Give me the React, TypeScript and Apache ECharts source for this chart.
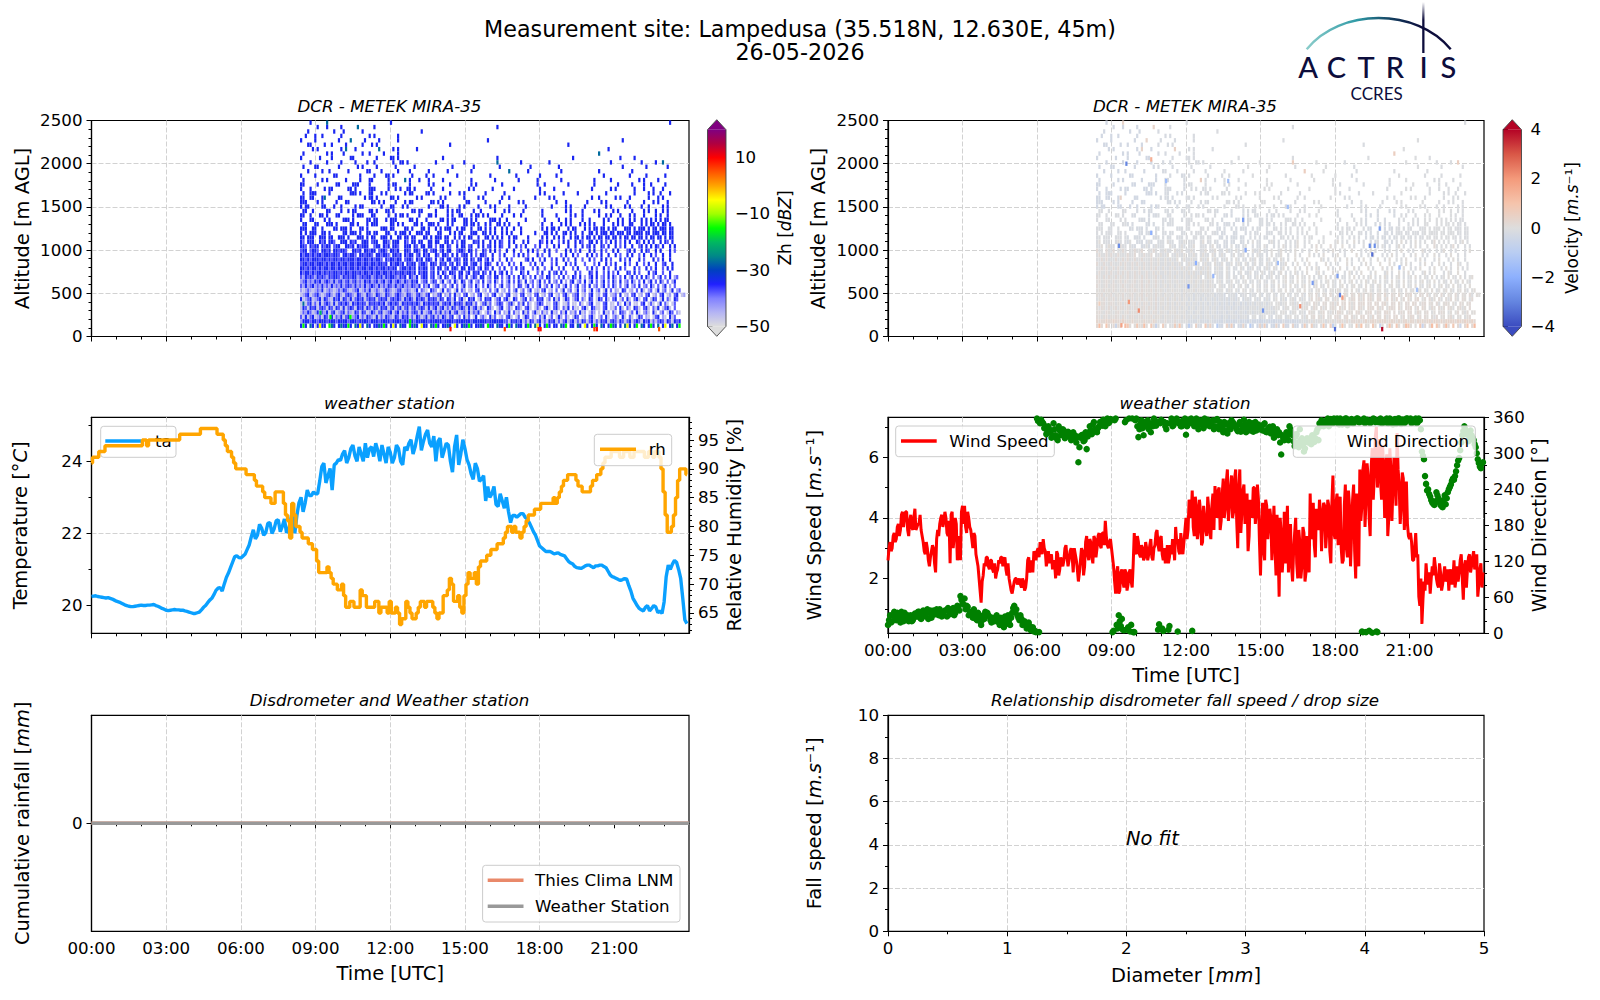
import React, { useEffect, useRef } from "react";
import * as echarts from "echarts";

const FONT = "DejaVu Sans";

// ---------- data ----------
const hourTicks = [0, 3, 6, 9, 12, 15, 18, 21];

// 10-minute samples from 00:00, and the samples 5 minutes after each of them
const temperature = [
  20.25,20.27,20.24,20.22,20.22,20.18, 20.12,20.08,20.02,19.98,19.97,19.99,
  20.01,20.0,20.01,20.03,19.98,19.92, 19.87,19.87,19.89,19.88,19.87,19.84,
  19.8,19.78,19.82,19.95,20.08,20.2, 20.42,20.5,20.6,20.9,21.2,21.38,
  21.32,21.42,21.68,22.1,21.95,22.15, 22.02,22.3,22.12,22.38,22.2,22.02,
  22.37,22.0,22.85,22.6,23.2,23.05, 23.1,23.45,23.95,23.6,23.2,23.95,
  24.02,24.3,24.1,24.45,24.0,24.2, 24.5,24.35,24.13,24.3,24.45,23.95,
  24.25,24.1,24.35,23.9,24.3,24.6, 24.4,24.96,24.55,24.87,24.4,24.0,
  24.64,24.3,24.45,23.7,24.73,24.2, 24.35,23.9,23.5,23.8,23.5,22.9,
  23.0,23.3,22.75,22.9,23.0,22.3, 22.5,22.5,22.55,22.4,22.18,21.95,
  21.65,21.55,21.5,21.47,21.45,21.42, 21.38,21.22,21.15,21.05,21.03,21.1,
  21.12,21.05,21.1,21.12,21.05,20.85, 20.78,20.72,20.72,20.73,20.4,20.1,
  19.92,19.85,20.0,19.92,19.96,19.85, 20.1,21.12,21.15,21.2,20.75,19.6,
];
const temperatureBetween = [
  20.26,20.25,20.23,20.21,20.2,20.15, 20.1,20.05,20.0,19.97,19.98,20.0,
  20.0,20.01,20.02,20.0,19.95,19.9, 19.86,19.88,19.88,19.87,19.85,19.82,
  19.78,19.8,19.88,20.0,20.15,20.3, 20.48,20.4,20.78,21.05,21.35,21.33,
  21.37,21.55,21.9,21.85,22.25,21.95, 22.28,22.0,22.35,22.05,22.4,22.1,
  22.7,22.5,23.0,22.85,23.05,23.15, 23.1,23.85,23.4,23.8,23.9,24.05,
  24.2,23.95,24.35,24.15,24.4,24.0, 24.1,24.4,24.5,24.0,24.2,24.4,
  23.95,24.45,24.0,24.4,24.5,24.2, 24.7,24.3,24.75,24.5,24.7,24.55,
  24.1,24.5,24.0,24.4,23.9,24.6, 24.05,23.65,23.95,23.45,23.6,23.3,
  23.1,22.8,23.1,22.7,22.6,22.5, 22.45,22.55,22.45,22.3,22.05,21.8,
  21.6,21.5,21.5,21.43,21.46,21.4, 21.3,21.18,21.08,21.04,21.06,21.12,
  21.08,21.1,21.12,21.08,20.95,20.8, 20.75,20.7,20.75,20.55,20.2,20.0,
  19.88,19.95,19.85,20.0,19.8,19.78, 20.8,21.0,21.25,21.0,20.2,19.5,
];
const humidity = [
  91,92,93,93,94,94, 94,94,94,94,94,94, 94,95,95,95,95,95, 95,95,95,95,96,96,
  96,96,96,97,97,97, 97,96,95,93,92,90, 90,90,89,89,87,87, 85,85,84,86,86,82,
  78,82,80,78,78,77, 76,72,72,73,71,70, 69,68,66,67,66,69, 68,66,66,67,66,66,
  67,65,65,64,67,65, 64,66,67,67,67,65, 65,68,69,70,67,66, 68,72,71,70,74,74,
  75,76,77,77,79,80, 80,79,79,81,82,83, 83,84,84,84,84,86, 88,89,89,88,87,86,
  86,88,89,90,92,92, 93,93,92,93,92,93, 93,93,92,93,93,92, 86,79,80,85,90,90,
];
const humidityBetween = [
  92,92,93,94,94,94, 94,94,94,94,94,94, 95,94,95,95,95,95, 95,95,95,96,96,96,
  96,96,97,97,97,97, 96,96,94,93,91,90, 90,89,89,88,87,86, 85,84,86,86,84,81,
  84,80,79,78,77,76, 74,72,72,72,70,69, 70,66,67,66,66,68, 66,66,67,65,66,65,
  65,66,63,64,66,64, 65,67,66,67,66,64, 65,68,71,67,68,65, 70,71,72,73,74,75,
  76,76,77,78,80,79, 79,78,80,82,82,83, 84,84,84,85,85,87, 88,89,89,87,86,86,
  87,88,89,91,92,93, 93,92,93,93,92,93, 93,92,93,92,93,90, 82,79,82,88,90,89,
];
// 5-minute samples from 00:00, and the samples 2.5 minutes after each of them
const windSpeed = [
  2.6,3.2,3.0,3.5,3.3,3.8,3.6,4.2,4.0,4.2,3.4,4.1,
  3.6,4.3,3.7,3.8,3.6,3.2,2.8,3.0,2.4,2.9,3.0,2.2,
  3.6,3.8,4.1,3.9,4.0,3.4,2.5,4.2,3.4,3.8,3.1,2.6,
  4.4,4.4,3.5,4.0,3.6,3.0,3.4,2.6,2.0,1.2,2.1,2.4,
  2.7,2.3,2.6,2.2,2.0,2.3,2.5,2.7,2.6,2.3,2.5,1.8,
  1.5,1.9,2.0,1.9,1.8,2.0,1.6,2.0,2.7,2.4,2.2,2.8,
  2.9,2.7,3.1,3.3,2.9,2.6,2.5,2.8,2.6,2.0,2.8,2.3,
  2.5,2.6,3.1,2.4,2.9,2.7,3.0,2.6,1.9,2.6,2.9,2.4,
  3.4,2.6,3.2,2.5,3.3,3.0,3.5,3.0,3.5,3.9,3.1,3.2,
  3.0,2.4,1.5,2.4,1.6,2.3,1.7,2.2,1.8,2.3,1.7,3.5,
  2.8,3.2,2.7,3.0,2.7,3.0,2.8,3.3,2.6,3.1,3.6,2.9,
  3.4,2.6,2.5,3.1,2.7,2.8,3.1,3.7,3.3,2.8,3.0,3.2,
  4.0,3.6,4.5,4.9,3.4,4.4,3.6,4.2,3.2,4.0,3.4,4.3,
  3.3,4.8,5.05,4.0,5.0,3.9,5.3,4.3,5.6,4.4,5.4,4.2,
  5.6,3.0,5.6,4.2,5.1,4.5,2.9,4.6,4.0,5.0,4.2,4.6,
  2.1,4.5,2.6,4.4,3.8,4.0,3.5,3.0,4.1,1.4,3.5,2.8,
  2.5,4.4,3.0,2.4,2.9,4.0,2.0,3.2,2.4,3.5,2.2,2.9,
  4.8,3.4,3.1,4.3,3.6,4.2,3.9,4.4,3.5,4.4,2.5,5.4,
  3.3,4.8,4.0,3.0,2.6,5.1,2.7,4.4,3.4,5.1,2.0,4.2,
  5.6,4.4,5.9,4.6,5.4,3.4,6.3,5.4,7.0,6.0,5.2,6.4,
  4.0,6.1,4.0,5.6,5.0,5.4,6.8,5.1,4.4,5.3,4.4,3.8,
  3.3,3.2,2.6,3.5,2.8,1.1,0.5,1.9,2.5,1.8,1.5,2.4,
  2.7,2.0,1.7,2.2,1.8,2.4,2.0,1.6,2.3,2.0,1.7,2.4,
  2.2,2.8,1.3,2.6,2.3,2.8,2.4,2.9,2.5,1.4,2.3,1.7,
];
const windSpeedBetween = [
  3.0,2.9,3.4,3.2,3.7,3.4,4.1,3.7,4.2,3.6,3.9,3.7,
  4.0,3.6,3.8,4.1,3.4,2.9,3.2,2.6,2.7,3.1,2.5,3.3,
  3.4,4.0,3.7,4.2,3.5,3.9,4.1,3.0,4.0,2.6,3.4,4.2,
  3.8,3.7,4.2,3.7,3.3,3.5,2.8,2.4,1.6,1.9,2.5,2.7,
  2.4,2.6,2.3,2.5,2.2,2.6,2.7,2.4,2.7,2.1,2.0,1.6,
  1.7,2.0,1.8,2.0,1.7,1.9,1.7,2.6,2.2,2.6,2.9,2.6,
  3.0,3.2,2.8,3.0,2.4,2.9,2.7,2.3,2.5,2.9,2.1,2.7,
  2.4,3.0,2.7,2.6,3.0,2.2,2.8,2.3,2.2,3.0,2.1,3.2,
  2.8,3.3,2.7,3.4,2.7,3.4,3.1,3.5,3.1,3.4,3.0,3.3,
  2.7,1.9,2.2,1.5,2.2,1.9,2.3,1.6,2.2,1.9,2.5,2.9,
  3.4,2.8,3.1,2.6,3.2,2.6,3.1,2.7,3.0,3.5,3.1,3.3,
  2.8,3.0,2.7,2.5,3.1,3.3,2.6,3.2,2.9,3.5,2.8,3.6,
  3.3,4.6,4.0,3.7,4.7,3.3,4.6,3.1,4.4,3.6,4.7,3.5,
  4.4,3.6,4.6,4.9,3.6,4.8,4.0,5.2,3.9,5.0,4.0,5.3,
  3.9,5.0,3.5,4.9,3.8,4.8,3.4,4.3,5.0,3.8,5.1,3.2,
  3.6,2.9,4.6,3.3,4.3,2.6,4.4,2.1,3.0,4.0,2.2,4.2,
  3.4,2.2,3.8,1.9,3.5,2.5,3.6,2.0,3.7,1.9,3.4,2.2,
  3.3,4.5,2.7,3.9,4.6,2.9,4.5,3.0,4.6,2.9,4.5,3.5,
  4.5,3.1,4.7,2.5,4.4,3.0,4.9,2.4,4.6,2.9,4.8,2.4,
  3.9,5.6,3.7,5.8,4.0,5.7,4.6,6.7,5.0,6.6,4.6,5.6,
  5.7,3.4,6.3,3.9,6.0,4.4,5.6,3.8,5.5,3.6,5.2,3.4,
  3.5,2.6,3.0,2.7,1.4,2.0,1.3,1.6,2.0,2.2,2.0,2.1,
  2.4,1.8,2.5,1.6,2.1,1.9,2.3,2.2,1.8,2.6,2.0,1.9,
  2.6,2.0,2.4,1.7,2.7,2.2,2.7,2.3,2.8,1.8,2.5,2.2,
];
const windDirection = [
  14,30,20,36,22,32,18,28,34,24,20,30,
  22,33,28,36,24,38,28,40,34,26,38,32,
  34,40,28,36,38,42,32,36,30,40,44,62,
  50,58,46,30,34,26,32,22,28,14,30,36,
  34,28,18,22,24,26,14,22,10,20,30,14,
  34,46,40,26,30,14,20,8,18,5,10,4,
  358,2,356,350,345,335,340,326,350,330,322,338,
  333,338,329,336,328,330,331,318,285,326,331,322,
  307,335,338,348,340,335,345,350,356,345,358,352,
  356,4,358,8,20,24,5,355,10,3,358,2,
  358,327,350,342,352,348,340,335,345,355,352,15,
  356,4,345,350,12,358,347,355,3,352,345,350,
  331,356,350,4,345,358,340,350,355,358,347,352,
  348,355,345,357,340,350,335,348,333,345,355,350,
  345,337,352,340,356,335,345,338,350,343,338,348,
  345,338,350,335,342,333,345,330,340,335,298,325,
  323,330,345,335,320,328,318,340,325,303,320,318,
  325,330,319,335,322,345,352,348,355,345,357,350,
  352,358,348,355,350,358,347,352,357,350,355,358,
  352,3,358,2,355,350,1,357,3,352,358,350,
  355,358,350,356,348,357,353,358,349,356,352,358,
  355,350,354,358,352,355,303,290,249,240,228,218,
  214,235,225,214,210,230,225,240,248,258,262,280,
  292,318,337,340,335,325,330,322,310,290,278,283,
];
const windDirectionBetween = [
  22,18,30,24,34,26,36,20,28,30,24,20,
  26,30,36,26,32,34,36,24,38,30,34,40,
  30,36,34,38,28,40,34,42,34,46,38,56,
  48,40,44,36,30,40,24,34,20,22,24,30,
  30,22,26,20,30,18,26,14,28,16,22,26,
  42,36,30,22,24,16,14,10,12,6,3,2,
  354,350,352,342,332,345,335,330,340,325,345,330,
  340,325,332,334,322,335,325,328,310,330,320,335,
  328,345,332,352,338,342,352,346,352,355,350,357,
  2,355,14,30,12,6,352,6,358,14,2,355,
  345,340,355,330,345,355,345,350,358,346,6,350,
  8,352,340,6,350,345,352,358,350,345,355,358,
  345,352,358,350,352,346,355,348,342,352,356,345,
  352,340,355,345,352,342,352,338,350,340,352,345,
  340,348,336,345,348,340,352,342,336,352,345,340,
  342,348,336,340,344,338,326,334,330,318,330,322,
  335,322,340,330,312,332,310,322,314,308,325,322,
  315,328,325,340,350,355,345,352,358,348,354,358,
  355,350,358,348,354,358,350,355,350,354,358,352,
  355,2,350,356,4,354,358,352,2,356,350,355,
  352,350,358,352,355,349,358,352,356,350,358,355,
  358,352,356,350,358,340,296,262,238,232,222,216,
  220,230,218,212,222,215,235,244,254,256,270,288,
  305,330,345,332,320,338,326,315,300,284,275,285,
];
const rainHours = [0, 24];
const rainDisdrometer = [0, 0];
const rainWeatherStation = [0, 0];

// radar gates, estimated by eye: one string per altitude, top first, one character per time step.
const gateStartHour = 8.42;
const gateStepHour = 0.095;
const gateTopAltitude = 2475;
const gateStepAltitude = 51.1;
const gateRows = [
  "....b......t..........................b.....................................................................................................................b",
  ".......b...b.....b......t......b...................................................b",
  "...b..........b...b.......b........................b",
  "..b...b..b.......b...........b.b.........b",
  "b.....b.........b....t.....b.....b.......b.....................................b........................................................b",
  "...bb.....b..b.....b......b...b.b..............................b.................................................b",
  ".....b.b.........b.t...b.........t.....b.b.......b................................................................................b",
  ".b.........b.b....b.......b..b.....b.....b....................................................................................t",
  "b.......b....b.......bb.........b.....bb.b..................b......................b...............................b...................b.....b",
  "....b......b.....b.....b....b..b.......b..bb.b...........b...........b.............t.........b...........b.........................b............b.....b..t",
  ".b....bb........b.......b.b.....b.......b.......b...............b........b..........b............b...........b..........................b.........b........b",
  "...b.....b..b.......b.......bb....b......b....b.......b.......b.........b...............t.......b.............b...............b.............b...............",
  "b.....b.......bb.........b.....b....bb.b.......b.....b..b.........b.............b..........b.........b......b...................b..........b......b.......b",
  ".b.......b.b.......b.....b...bb......b......t.b...b...b.....b...........b.........b.........b.......b.........b.............b......b...........b.b.....b...",
  "bb.....b.......bb.....bbb....b.......b.bb.....b.......b.b......b........b.b..........b..............b..b.........b..........b.........b.....b....b..b.....b.",
  "b...b.....b.bb......bb.b.....bbb.....b..b.b..bb.b......b....b..........b.b.......b........b..........b.....b...............b.......b.b.......b...b...b...b..",
  ".b..bbb.....b........bbb.b...bb...b.b.......b.bb.....bb.b......b...b.b........b.......b..............b.b.......b.....b...........b...........b.....b.b..b...b",
  "bb..bb...bt.....bb.........b.bb.b.....bb.b.......b.b.......b.b.......b.....b.b.......b..b..........b.....b.b...............b..b......b.b...b.......b...b.b..",
  "bbb....b.b.....b...bb.........bb.b.b....b...b.bb.......bb.b.b.........bb......b.....b.......b.b.............b...b........b.....b.b........b......b...b.b...b.",
  "b.bb.....bb...b..b.....b.bb.......b...bb...b.b........b....bb.b....b.b.....b....b.b.....b......b..........b.....b.b.....b........b.b.....b.b....b..b.....b.b",
  ".bb..b.....bb....b..b.bb.....bb.b...bb.b.......bb.bb.....b....b.b.bb.....b..b.....b...b.b.....b.......b.........b.b....b....b.b.....b.b.....b....b.b..b..b.b.",
  "bb..b...bb.b...bb.....b.bbb...bb.....b..b.bb.b....b...bb.b....b.b..bb...b.bb.b.b.....b....b..b........b.....b.....b.b..b......b..b.b...b...b.b...b....b.b..b",
  "b...bb....b.b.....bbb.b.....bb.bb...b.bbb.....bb.b...b.....bb.b.bb...bb.b.b.....bbb.b..b.......b.......b.....b..b.b....b..b.....b.b...b.b..b.b..b.b.b.b.b.bb",
  ".bb...bb...bbb.b.....bb.b...b.bbb.....bb.b.b....bb.b..bbb.b...b.b....bb.bb.b..b.b..bb.b.b...b.........b...b...b.b.b...b.b.b.b...b...b.b.b..bb...b.b.bb.b.bb.b.",
  "bbb..bb..b....bb.bbb.b...bb.b.....bbb.bb....bb.b...bb.b..b.b.bbb..b.bb..b..bb.b.b.b..b.b..b..b........b.b.bb.b...b.bb...b.b.bb.bb.b.bb...bbb.b.bbb.b.bb.bbb.bb",
  "b.b.bbb..bb.b.....bb.bbb.b..bb.bb...bb..b.bbb.b..bbb.bb...bb...b.b.bb...bbb..bb.b.b..b.b.b...b.....b...bb.b.b..bb.b.b..b..bb.b.bbb.bb.bbb.bb.bbbb.bb.bbb.bb.bb",
  "bb.bbb..bbb.bb..bbb.b...bbb.b.bb..bbb.b..bb.bb.bb...bb.b.bbb.bb..b.b.b.bb..b..bb.b.b.b..b.bb....b.....b.b..b.b.b..b.bb.b.bb.b.bb.bb.bb.b.bb.bb.bb.b.bb.bb.b.bb",
  "bm.bbb..bmb.bbm..bbb.bmb..bbb.mbb..bbm.bbb..bm.bb.bb..bb.bb..bb.b.m.bb...bmb.b..b.b.bm..b.b...b.b....bm.b.b..m.b.b..b.bm..bb.b.b.m.b.b.m.b.b..bm.b.b.b..b.bm.b.",
  "bbm.bmbb.bmbb.mbb..bbmb.bmbbb..mbb.bmb.bbm..bbb.bm.bb.bb.m.bb.bm..b.bb.mb..b.b.mb.b.bm..b..b.m.b...m.b..m..b.b...b..b..b.mb.b..bm.b..b.m.b..b..mb.b.b.bm.b..b.b",
  "mbb.mbbm.bbmb.bbmbbm..bbmb.bbmbb.mbbm.bbmb..bbm.bbm.bb.mbb.mb.bb..mbbm.bb.m..bm.b.b.m..b..b..m..b.b.m..b.b..m...b.b.m.b...b.b..b.m..b.b...mb.b..b.bm..b.b...b.m",
  "bmbbmbmbbmbbbmbbm.bbmbbm.bbmbbm.bbmbbm.bbmb.bmbb.mb.bmb..bm.bbm.b.b.mbb.b.m.bbm..b..m.b...m.b.b.m...b.m..b....m.b..b.m...b.b.m.b..b..b.m..b.b..m.b..b.m..b..b.",
  "bbmbmbbbmbbmbmbbmbbmbbbmbbmbbmbmbbm.bmbbmbb.mbbm.bmb.bbm.b.mb.bb.mbm.bb.bm.bb.mb.b..m..b.m.....mb.b..m.b..m.b..b.m..b..m..b.m..b.b.m...b.m.b...b.m...b.m.b..b.",
  "mbbmbbmbbbmbmbbmbmbbmbbmbbmbbmbbmbbmb.bmbbmb.bmbb.mbbm.bbm.bmb.mb.bm.bb.mbb.m.bbm..b.m..b.m..b...m.b..b...m.b...b.m.b...m...m.b..b.m.b...b.m..b..m.b..b..mb..b",
  "bbmbmbbmbmbbmbbmbbmbmbbmbmbbmbbmbmbbmbmbb.mbbmbmb.bmbb.mb.bb.mb.bbm.bb.bmb.mb.bm.b..m.b..m.b.mb...m.b..m..b..m.b...m.b...m.b.m..b.m..b.b.m...b.m..b.m.b..m.b.b",
  "bmbbmbmbbmbmbmbbmbmbbmbbmbmbbmbmbbmbbmbmbmbbmbbmb.bmbb.mb.b.bm.bbm.bb.mb.bmb.bm.b.b.mb.b.m...bm.b...m.b..b.mb.b.m...b.m...bm.b..m.b.m.b...bm.b.m...b.mb..m..b.",
  "mlbmbmlbmbmlbmbbmlbmbmbblmbmbblmbmblbmbbmlbmb.bmlb.mbb.mb.lb.bm.lb.bm.b.lbm.bb.lm.bb.m.lb.m.b.bl.m.b.lm.bb.l.m.b.l.bm.b.l.mb.b.lm.b.bl.m.b.lb.m.b.bl.m.lb.m.b.lm",
  "lmblmlbmblmbmlblmblmblmblmlbmblmblmblmblmbmlbmlbmb.lmb.lbm.lb.lm.bl.bm.lb.lm.b.lm.bl.m.lb.m.bl.b.lm.lb.m.b.lm.b.l.mb.lm.b.lb.m.lb.m.bl.b.lm.bl.m.b.lb.m.bl.m.lb.",
  "mlblmblmlblmlblmlblmbmlblmlblmbmlblmlbmlblmblmlbmlb.mlb.lmb.lm.lb.m.lb.lm.bl.m.bl.m.lb.lm.l.bm.lb.m.lb.lm.b.lm.lb.m.lb.lm.b.lm.lb.m.bl.m.lb.lm.b.lm.bl.m.lb.l.m",
  "lglmlglmlbglmlglmlbmlglmbglmlbglmlglbmlglmbglmlglb.mlg.bml.gb.ml.gb.ml.gl.mb.gl.m.lb.gl.m.lb.gm.lb.gl.mb.gl.m.gb.lm.gb.lm.gb.lm.gb.m.lg.bm.gl.m.bg.lm.gb.lm.gb.lm",
  "glmbglmblglmblgmblgmbmlgbmlgbmlgbmlgbmlgmbmlgbmlgmblgmb.lgmb.lgm.bgl.mb.gl.mb.gl.mb.gl.mb.gl.mb.gl.mb.gl.mb.gl.mbg.lmb.gl.mb.gl.mb.glm.b.gl.mb.gl.mb.gl.mb.gl.mb.gl",
  "bglmbglmbgbmlgbmbgbmlbgmbmbgmbmbgmbmbgmbmbmgbmbmgbmbmgbmbmgbm.bmgb.mbg.bmb.gm.bmb.gmb.mbg.bm.gmb.mg.bmb.gm.bgm.gbm.gmb.mg.bm.gbm.bg.mb.gm.bg.mbg.mb.gbm.gb.mg.bm",
  "gtgmbgmgbgmbmgbgmbmbmgbmbmbmgbmbmbmbgmbmbmgbmbmbmbmgbmbmbmbgmbmbgbmbmgbmbgm.gmbgm.gmbm.gmbg.mgb.mg.gmbm.gg.mbg.ggm.gg.mg.gmb.gg.mb.gg.mg.bgm.gg.mb.gmg.gb.mg.gm",
  "gbmgbmbgmbmgbmgbmgbgmbmgbmbgbmgbmgbmbgmbgmbgmbgmbgmbmgbgmbgmbgmgbmgmbmgbgmbgmg.bmg.gmb.gmg.bmg.mbg.gmg.mbg.mbg.mgb.mgg.mbg.bmgg.mb.ggm.bg.mg.bmg.mbg.mgb.gmbg.m",
  "gmlbmglbgmlbgmbglmbgmlgbmgbmglbmgmbglmbgmbgmlbgmbmgbglmbgmlbgmlbgmbglmgbgmlbg.gml.bgm.lgb.mgl.bgm.lbg.mgl.bgl.mgb.lgm.bgl.gml.g.bgl.mg.bml.gm.bg.lmg.bg.lm.gbm.lg",
  "mgbgmbglmgbmgbgmlbgmbglmbgmgbmlgbgmgbmlgbmgbmbgmgbmglbgmbgmgbmgmb.gm.bgm.gb.lmg.bgm.gl.mbg.gm.gbm.lg.mgb.gm.gbl.mg.gbm.gl.mbg.gm.bg.lmg.bg.mg.gbm.lg.gmb.lg.bgm",
  "lbbbmbbmbbbmbbbmbbbbmbbbmbbbbmbbbmbbbbmbbbbmbbbbmbbbbbmbbbbbmbbbbmbbbbbbmbbbbbbmbbbbbbmmgbmbmbgmgbmgmbgmgbmbgmgmbgmbgmgbmgmbgmgbmbgmbmgbmgmbgmbmgbmbgmgmbmgbmgbmb",
  "bvb.tb.bybb.vtb.btbbvb.tbyb.tb.bbtbvb.byb.tbb.vbtb.ybb.tbvb.bbtb.yb.btbvb.bbtb.vbb.tbb.bvb.tbb.bvb.tyb.bvb.bb.tbv.bb.tb.yb.bvb.tb.bvtb.b.tyb.bv.tb.bvb.t.by.bt.bv",
];
const gateLevelDbz: Record<string, number> = { b: -34, m: -38, l: -43, g: -47, t: -27, v: -15, y: -6 };
const zhSpikes = [[14.42, 85, 9], [16.6, 85, 6], [17.96, 85, 10], [18.04, 85, 9], [20.2, 85, 6], [20.3, 85, 9], [22.8, 85, 5], [9.6, 225, -15], [10.4, 225, -15], [9.2, 275, -20], [12.8, 175, -16]];

// mean velocity per altitude band (lowest band first) and per 1.2 h block from 08:25
const velocityBandTops = [200, 500, 1000, 1500, 2500];
const velocityBands = [
  [0.3, 0.2, 0.05, -0.1, -0.2, -0.25, -0.2, 0.0, 0.1, 0.2, 0.2, 0.25, 0.3],
  [0.05, 0.05, 0.0, -0.1, -0.15, -0.1, -0.05, 0.05, 0.1, 0.1, 0.1, 0.05, 0.05],
  [0.05, 0.05, 0.0, 0.0, -0.05, -0.05, 0.0, 0.0, 0.0, 0.0, 0.0, 0.0, 0.0],
  [0.0, -0.1, -0.05, 0.0, -0.1, -0.05, 0.0, 0.05, 0.0, -0.1, 0.0, 0.05, 0.0],
  [-0.2, -0.2, -0.1, -0.05, 0.0, 0.05, 0.0, 0.05, -0.05, 0.0, 0.05, 0.0, 0.0],
];
const velocityLevelOffset: Record<string, number> = { b: -0.1, m: 0.1, l: 0.0, g: 0.05, t: 0.6, v: 0.9, y: -0.8 };
const velocityOutliers = [
  [9.6, 2000, -3], [9.3, 1050, -2.8], [10.6, 1200, -2], [11.2, 1800, -1.6], [13.7, 1800, -1.5], [14.3, 1350, -2.4],
  [14.4, 1000, -2.2], [12.1, 580, -2.6], [15.1, 300, -2.6], [16.6, 350, 2.2], [17.1, 620, -2.5], [18.1, 700, -2.4],
  [18.2, 480, -3], [18.3, 450, 1.9], [19.4, 1050, -2.8], [19.5, 950, -3.4], [19.6, 1050, -2.8], [19.8, 1250, -2.5],
  [18.0, 85, -3.4], [19.9, 85, 4], [9.7, 400, 2], [10.1, 300, 2.2], [9.4, 130, 1.8], [10.6, 2050, 1.5], [21.3, 540, -1.4],
  [12.4, 850, -2], [13.1, 700, -1.8], [15.7, 850, -1.6], [16.1, 1500, -1.5], [20.6, 800, -1.6],
];

const zhColors = ["#dddddd","#b4b4f4","#8080ff","#2020ff","#0040c0","#008888","#00b860","#00ff00","#a0ff00","#ffff00","#ffa500","#ff5500","#ff0000","#b00040","#800080"];
const velocityColors = ["#3b4cc0","#6485e0","#8db0fe","#b9cdf2","#dddddd","#f5c4ac","#f49a7b","#d95847","#b40426"];
const zhTicks = [-50, -30, -10, 10];
const velocityTicks = [-4, -2, 0, 2, 4];

// ---------- layout ----------
const colL = { left: 91.5, width: 597.5 };
const colR = { left: 888, width: 596 };
const rowTop = [120.5, 417.3, 715.3];
const rowH = 216;

function gateCells(value: (c: string, hour: number, alt: number) => number) {
  const out: number[][] = [];
  gateRows.forEach((row, r) => {
    const alt = gateTopAltitude - r * gateStepAltitude;
    for (let i = 0; i < row.length; i++) {
      const c = row[i];
      if (c === ".") continue;
      const hour = gateStartHour + i * gateStepHour;
      if (hour < 24) out.push([hour, alt, value(c, hour, alt)]);
    }
  });
  return out;
}
const velocityAt = (c: string, hour: number, alt: number) => {
  const band = velocityBandTops.findIndex((t) => alt < t);
  const block = Math.min(12, Math.floor((hour - gateStartHour) / 1.2));
  return velocityBands[band][block] + velocityLevelOffset[c];
};
const samples = (a: number[], b: number[], minutes: number) =>
  a.flatMap((v, i) => [[(i * minutes) / 60, v], [((i + 0.5) * minutes) / 60, b[i]]]);

const label = (extra: any = {}) => ({ fontFamily: FONT, fontSize: 16.67, color: "#000", margin: 9, formatter: (v: number) => String(v), ...extra });
const tickLine = { lineStyle: { color: "#000", width: 1 } };
const dash = { show: true, showMinLine: false, showMaxLine: false, lineStyle: { color: "#d2d2d2", width: 1, type: [5, 2] } };
const nameStyle = (size = 19.44) => ({
  fontFamily: FONT, fontSize: size, color: "#000",
  rich: {
    n: { fontFamily: FONT, fontSize: size, color: "#000" },
    i: { fontFamily: FONT, fontSize: size, color: "#000", fontStyle: "italic" },
  },
});
const minorOn = (n: number) => ({ show: true, splitNumber: n, length: 3, ...tickLine });
const axisLine = { show: true, lineStyle: { color: "#000", width: 1.2 } };

function timeAxis(gridIndex: number, labelled: boolean) {
  return {
    type: "value", gridIndex, min: 0, max: 24, interval: 3,
    axisLine, splitLine: dash,
    axisTick: { show: true, length: 5, customValues: hourTicks, ...tickLine },
    minorTick: minorOn(3),
    axisLabel: labelled
      ? label({ customValues: hourTicks, formatter: (v: number) => String(v).padStart(2, "0") + ":00" })
      : { show: false },
    ...(labelled ? { name: "Time [UTC]", nameLocation: "middle", nameGap: 33, nameTextStyle: nameStyle() } : {}),
  };
}
const altitudeAxis = (gridIndex: number) => ({
  type: "value", gridIndex, min: 0, max: 2500, interval: 500,
  axisLine, splitLine: dash, axisTick: { show: true, length: 5, ...tickLine }, minorTick: minorOn(5),
  axisLabel: label(), name: "Altitude [m AGL]", nameLocation: "middle", nameGap: 60, nameTextStyle: nameStyle(),
});
const hiddenX = (gridIndex: number) => ({ type: "value", gridIndex, min: 0, max: 1, show: false });
const minorY = (gridIndex: number, position: string, min: number, max: number, customValues: number[]) => ({
  type: "value", gridIndex, position, min, max, axisLine: { show: false }, splitLine: { show: false },
  axisLabel: { show: false }, axisTick: { show: true, length: 3, customValues, ...tickLine },
});
const colorbarAxis = (gridIndex: number, min: number, max: number, ticks: number[], name: string, gap: number) => ({
  type: "value", gridIndex, position: "right", min, max,
  axisLine: { show: false }, splitLine: { show: false },
  axisTick: { show: true, length: 5, customValues: ticks, ...tickLine },
  axisLabel: label({ customValues: ticks, formatter: (v: number) => String(v).replace("-", "\u2212") }),
  name, nameLocation: "middle", nameGap: gap, nameRotate: 90, nameTextStyle: nameStyle(17),
});

function colorbarSeries(xAxisIndex: number, yAxisIndex: number, range: number[], colors: string[]) {
  return {
    type: "custom", xAxisIndex, yAxisIndex, silent: true, z: 3,
    data: [range],
    renderItem: (_: any, api: any) => {
      const [xl, yb] = api.coord([0, api.value(0)]);
      const [xr, yt] = api.coord([1, api.value(1)]);
      const xm = (xl + xr) / 2;
      const tip = 10;
      const stops = colors.map((color, i) => ({ offset: i / (colors.length - 1), color }));
      return {
        type: "group",
        children: [
          { type: "polygon", shape: { points: [[xl, yt], [xm, yt - tip], [xr, yt]] }, style: { fill: colors[colors.length - 1] } },
          { type: "polygon", shape: { points: [[xl, yb], [xm, yb + tip], [xr, yb]] }, style: { fill: colors[0] } },
          { type: "rect", shape: { x: xl, y: yt, width: xr - xl, height: yb - yt }, style: { fill: new echarts.graphic.LinearGradient(0, 1, 0, 0, stops) } },
          { type: "polygon", shape: { points: [[xl, yt], [xm, yt - tip], [xr, yt], [xr, yb], [xm, yb + tip], [xl, yb]] }, style: { fill: "none", stroke: "#444", lineWidth: 0.9 } },
        ],
      };
    },
  };
}

// ---------- legends and logo ----------
function legendBox(x: number, y: number, w: number, h: number, z: number) {
  return { type: "rect", z, silent: true, shape: { x, y, width: w, height: h, r: 3 }, style: { fill: "rgba(255,255,255,0.8)", stroke: "#cccccc", lineWidth: 1 } };
}
function legendLine(x1: number, x2: number, y: number, stroke: string, z: number) {
  return { type: "line", z: z + 0.1, silent: true, shape: { x1, y1: y, x2, y2: y }, style: { stroke, lineWidth: 3.4 } };
}
function plainText(text: string, x: number, y: number, z: number, extra: any = {}) {
  return { type: "text", z: z + 0.2, silent: true, x, y, style: { text, fill: "#000", fontFamily: FONT, fontSize: 16.67, textAlign: "left", textVerticalAlign: "middle", ...extra } };
}
const logoInk = "#0d0d3c";
const logoLetters = [["A", 1308], ["C", 1336.5], ["T", 1366], ["R", 1395], ["I", 1423.5], ["S", 1448.5]] as const;
const fullPage: React.CSSProperties = { position: "fixed", left: 0, top: 0, width: 1600, height: 1000 };

export default function App() {
  const ref = useRef<HTMLDivElement>(null);
  const topRef = useRef<HTMLDivElement>(null);
  useEffect(() => {
    if (!ref.current || !topRef.current) return;
    const chart = echarts.init(ref.current, undefined, { renderer: "svg" });
    const topLayer = echarts.init(topRef.current, undefined, { renderer: "svg" });
    const grids = [
      { ...colL, top: rowTop[0] }, { ...colR, top: rowTop[0] },
      { ...colL, top: rowTop[1] }, { ...colR, top: rowTop[1] },
      { ...colL, top: rowTop[2] }, { ...colR, top: rowTop[2] },
    ].map((g) => ({ ...g, height: rowH, show: true, borderColor: "#000", borderWidth: 1.2, backgroundColor: "#fff" }));
    const overlays = [
      { ...colL, top: rowTop[1], height: rowH }, { ...colR, top: rowTop[1], height: rowH },
      { left: 707.5, width: 18.5, top: 129.7, height: 196.6 }, { left: 1503, width: 18.5, top: 129.7, height: 196.6 },
    ];
    const titleAt = (text: string, left: number, top: number) => ({
      text, left, top, textAlign: "center",
      textStyle: { fontFamily: FONT, fontSize: 16.67, fontStyle: "italic", fontWeight: "normal", color: "#000" },
    });
    const option: any = {
      animation: false,
      backgroundColor: "#fff",
      title: [
        { text: "Measurement site: Lampedusa (35.518N, 12.630E, 45m)\n26-05-2026", left: 795, top: 12, textAlign: "center",
          textStyle: { fontFamily: FONT, fontSize: 22.22, fontWeight: "normal", color: "#000", lineHeight: 23.5 } },
        titleAt("DCR - METEK MIRA-35", 384.5, 93), titleAt("DCR - METEK MIRA-35", 1180, 93),
        titleAt("weather station", 384.5, 390), titleAt("weather station", 1180, 390),
        titleAt("Disdrometer and Weather station", 384.5, 687),
        titleAt("Relationship disdrometer fall speed / drop size", 1180, 687),
      ],
      grid: [...grids, ...overlays],
      xAxis: [
        timeAxis(0, false), timeAxis(1, false), timeAxis(2, false), timeAxis(3, true), timeAxis(4, true),
        { type: "value", gridIndex: 5, min: 0, max: 5, interval: 1, axisLine, splitLine: dash,
          axisTick: { show: true, length: 5, ...tickLine }, minorTick: minorOn(2), axisLabel: label(),
          name: "{n|Diameter [}{i|mm}{n|]}", nameLocation: "middle", nameGap: 35, nameTextStyle: nameStyle() },
        hiddenX(6), hiddenX(7), hiddenX(8), hiddenX(9),
      ],
      yAxis: [
        altitudeAxis(0), altitudeAxis(1),
        { type: "value", gridIndex: 2, min: 19.23, max: 25.22, minInterval: 2, maxInterval: 2, axisLine, splitLine: dash,
          axisTick: { show: true, length: 5, customValues: [20, 22, 24], ...tickLine },
          axisLabel: label({ customValues: [20, 22, 24] }),
          name: "{n|Temperature [}{i|°C}{n|]}", nameLocation: "middle", nameGap: 62, nameTextStyle: nameStyle() },
        { type: "value", gridIndex: 2, position: "right", min: 61.47, max: 98.94, minInterval: 5, maxInterval: 5, axisLine, splitLine: { show: false },
          axisTick: { show: true, length: 5, customValues: [65, 70, 75, 80, 85, 90, 95], ...tickLine },
          axisLabel: label({ customValues: [65, 70, 75, 80, 85, 90, 95] }),
          name: "Relative Humidity [%]", nameLocation: "middle", nameRotate: 90, nameGap: 36, nameTextStyle: nameStyle() },
        { type: "value", gridIndex: 3, min: 0.19, max: 7.32, minInterval: 2, maxInterval: 2, axisLine, splitLine: dash,
          axisTick: { show: true, length: 5, customValues: [2, 4, 6], ...tickLine },
          axisLabel: label({ customValues: [2, 4, 6] }),
          name: "{n|Wind Speed [}{i|m.s}{n|⁻¹]}", nameLocation: "middle", nameGap: 64, nameTextStyle: nameStyle() },
        { type: "value", gridIndex: 3, position: "right", min: 0, max: 360, interval: 60, axisLine, splitLine: { show: false },
          axisTick: { show: true, length: 5, ...tickLine }, minorTick: minorOn(3), axisLabel: label(),
          name: "Wind Direction [°]", nameLocation: "middle", nameRotate: 90, nameGap: 46, nameTextStyle: nameStyle() },
        { type: "value", gridIndex: 4, min: -1, max: 1, interval: 1, axisLine, splitLine: { show: false },
          axisTick: { show: true, length: 5, customValues: [0], ...tickLine }, axisLabel: label({ customValues: [0] }),
          name: "{n|Cumulative rainfall [}{i|mm}{n|]}", nameLocation: "middle", nameGap: 60, nameTextStyle: nameStyle() },
        { type: "value", gridIndex: 5, min: 0, max: 10, interval: 2, axisLine, splitLine: dash,
          axisTick: { show: true, length: 5, ...tickLine }, minorTick: minorOn(2), axisLabel: label(),
          name: "{n|Fall speed [}{i|m.s}{n|⁻¹]}", nameLocation: "middle", nameGap: 64, nameTextStyle: nameStyle() },
        minorY(6, "left", 19.23, 25.22, [21, 23, 25]),
        minorY(6, "right", 61.47, 98.94, [62,63,64,66,67,68,69,71,72,73,74,76,77,78,79,81,82,83,84,86,87,88,89,91,92,93,94,96,97,98]),
        minorY(7, "left", 0.19, 7.32, [1, 3, 5, 7]),
        colorbarAxis(8, -50, 20, zhTicks, "{n|Zh [}{i|dBZ}{n|]}", 50),
        colorbarAxis(9, -4, 4, velocityTicks, "{n|Velocity [}{i|m.s}{n|⁻¹]}", 42),
      ],
      visualMap: [
        { type: "continuous", show: false, seriesIndex: 0, dimension: 2, min: -50, max: 20, inRange: { color: zhColors } },
        { type: "continuous", show: false, seriesIndex: 1, dimension: 2, min: -4, max: 4, inRange: { color: velocityColors } },
      ],
      series: [
        { type: "scatter", name: "Zh", xAxisIndex: 0, yAxisIndex: 0, symbol: "rect", symbolSize: [2.2, 4.4], silent: true, progressive: 0, itemStyle: { opacity: 1 },
          data: [...gateCells((c) => gateLevelDbz[c]), ...zhSpikes], z: 2 },
        { type: "scatter", name: "Velocity", xAxisIndex: 1, yAxisIndex: 1, symbol: "rect", symbolSize: [2.2, 4.4], silent: true, progressive: 0, itemStyle: { opacity: 1 },
          data: [...gateCells(velocityAt), ...velocityOutliers], z: 2 },
        { type: "line", name: "ta", xAxisIndex: 2, yAxisIndex: 2, showSymbol: false, z: 2, lineStyle: { color: "#0aa0ff", width: 3.4 }, data: samples(temperature, temperatureBetween, 10) },
        { type: "line", name: "rh", xAxisIndex: 2, yAxisIndex: 3, showSymbol: false, step: "middle", z: 4, lineStyle: { color: "#ffa500", width: 3.4 }, data: samples(humidity, humidityBetween, 10) },
        { type: "line", name: "Wind Speed", xAxisIndex: 3, yAxisIndex: 4, showSymbol: false, z: 2, lineStyle: { color: "#ff0000", width: 3 }, data: samples(windSpeed, windSpeedBetween, 5) },
        { type: "scatter", name: "Wind Direction", xAxisIndex: 3, yAxisIndex: 5, symbol: "circle", symbolSize: 6.5, z: 4, silent: true, progressive: 0, itemStyle: { color: "#008000", opacity: 1 }, data: samples(windDirection, windDirectionBetween, 5) },
        { type: "line", name: "Thies Clima LNM", xAxisIndex: 4, yAxisIndex: 6, showSymbol: false, z: 2, lineStyle: { color: "#e9896a", width: 3.4 }, data: rainHours.map((h, i) => [h, rainDisdrometer[i]]) },
        { type: "line", name: "Weather Station", xAxisIndex: 4, yAxisIndex: 6, showSymbol: false, z: 3, lineStyle: { color: "#999999", width: 3.4 }, data: rainHours.map((h, i) => [h, rainWeatherStation[i]]) },
        colorbarSeries(8, 11, [-50, 20], zhColors),
        colorbarSeries(9, 12, [-4, 4], velocityColors),
      ],
      graphic: {
        elements: [
          legendBox(100.7, 426.3, 75.3, 31, 3), legendLine(105.3, 141.7, 441, "#0aa0ff", 3), plainText("ta", 155, 441, 3),
          legendBox(895.7, 426, 158.6, 30.7, 3), legendLine(901, 936.7, 441, "#ff0000", 3), plainText("Wind Speed", 949.3, 441, 3),
          legendBox(482.6, 865.3, 197.4, 56.7, 5), legendLine(487.7, 523.5, 880.3, "#e9896a", 5), plainText("Thies Clima LNM", 535, 880.3, 5),
          legendLine(487.7, 523.5, 906.3, "#999999", 5), plainText("Weather Station", 535, 906.3, 5),
          plainText("No fit", 1126, 838, 5, { fontSize: 19.44, fontStyle: "italic" }),
          // ACTRIS logo
          { type: "bezierCurve", silent: true, z: 6,
            shape: { x1: 1306.7, y1: 49.3, cpx1: 1340, cpy1: 7.6, cpx2: 1417, cpy2: 7.6, x2: 1450.7, y2: 49.3 },
            style: { fill: "none", lineWidth: 2.4, stroke: new echarts.graphic.LinearGradient(0, 0, 1, 0, [
              { offset: 0, color: "#8accca" }, { offset: 0.35, color: "#2f9aa6" }, { offset: 0.6, color: "#123a5c" }, { offset: 0.8, color: logoInk }, { offset: 1, color: logoInk },
            ]) } },
          { type: "rect", silent: true, z: 6, shape: { x: 1422.2, y: 2, width: 2.3, height: 51 },
            style: { fill: new echarts.graphic.LinearGradient(0, 0, 0, 1, [
              { offset: 0, color: "rgba(13,13,60,0)" }, { offset: 0.35, color: logoInk }, { offset: 1, color: logoInk },
            ]) } },
          ...logoLetters.map(([ch, x]) => ({ type: "text", silent: true, z: 6, x, y: 66,
            style: { text: ch, fill: logoInk, fontFamily: "Lato", fontWeight: 500, fontSize: 29, textAlign: "center", textVerticalAlign: "middle" } })),
          { type: "text", silent: true, z: 6, x: 1376.7, y: 93,
            style: { text: "CCRES", fill: logoInk, fontFamily: "Lato", fontSize: 17, textAlign: "center", textVerticalAlign: "middle" } },
        ],
      },
    };
    chart.setOption(option);
    // the two legends that lie over the lines of their own panel
    topLayer.setOption({
      animation: false,
      backgroundColor: "transparent",
      graphic: {
        elements: [
          legendBox(594.3, 434.3, 77.4, 31.4, 5), legendLine(600, 636, 449.3, "#ffa500", 5), plainText("rh", 648.7, 449.3, 5),
          legendBox(1293.3, 426, 182, 31.3, 5), plainText("Wind Direction", 1346.7, 441, 5),
        ],
      },
    });
    return () => { chart.dispose(); topLayer.dispose(); };
  }, []);
  return (
    <>
      <div ref={ref} style={fullPage} />
      <div ref={topRef} style={{ ...fullPage, pointerEvents: "none" }} />
    </>
  );
}
